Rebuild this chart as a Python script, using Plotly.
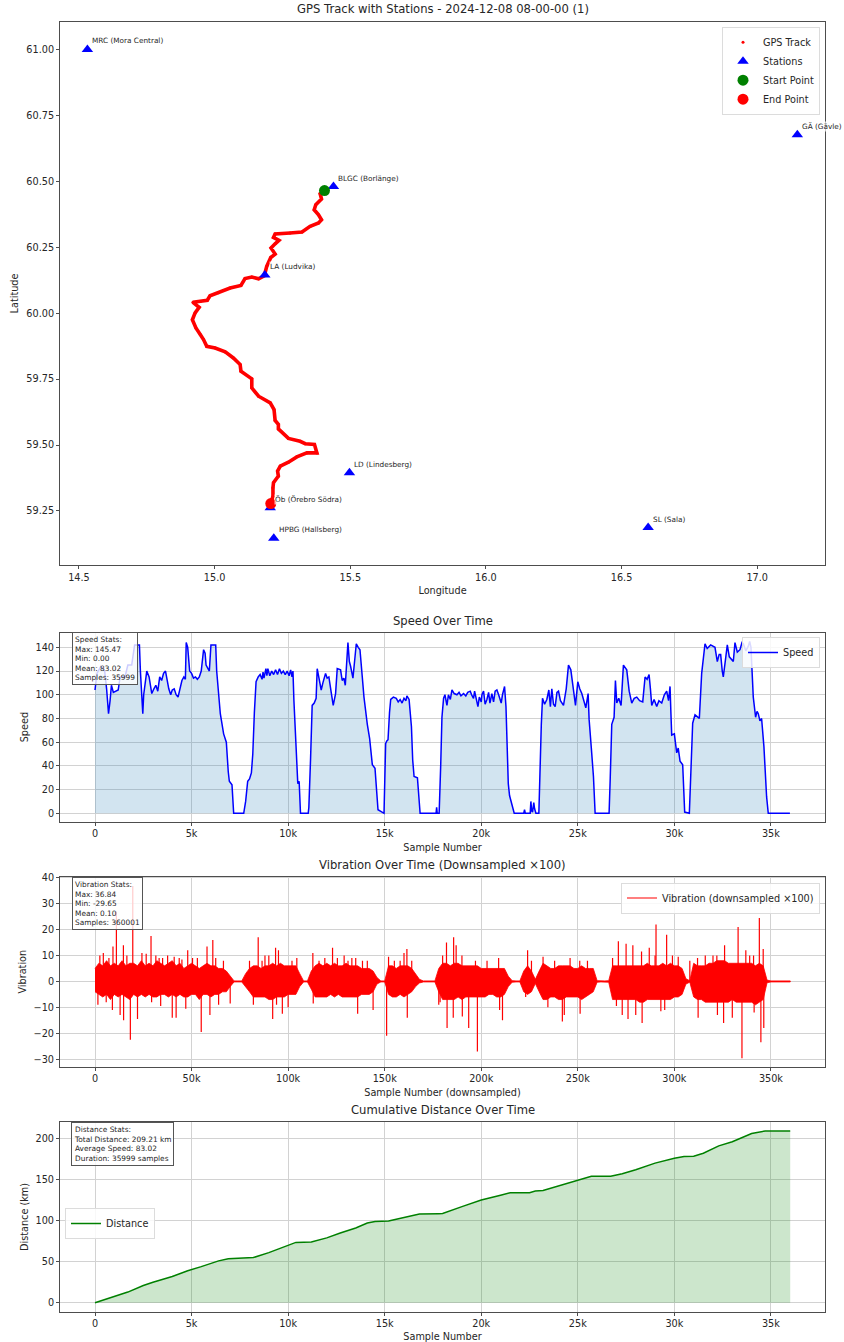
import plotly.graph_objects as go

W, H = 844, 1342
TEXT = "#262626"
FRAME = "#4d4d4d"
GRID = "#d2d2d2"
FONT = "DejaVu Sans"

# ---------- GPS panel ----------
track_lon = [15.405, 15.389, 15.394, 15.373, 15.367, 15.383, 15.394, 15.383, 15.352, 15.322, 15.278, 15.223,
             15.217, 15.237, 15.223, 15.208, 15.223, 15.207, 15.192, 15.183, 15.162, 15.137, 15.112, 15.097,
             15.057, 15.014, 14.983, 14.973, 14.947, 14.920, 14.943, 14.928, 14.918, 14.931, 14.947, 14.959,
             14.971, 15.002, 15.039, 15.069, 15.094, 15.097, 15.137, 15.137, 15.162, 15.205, 15.219, 15.223,
             15.235, 15.235, 15.272, 15.315, 15.334, 15.368, 15.377, 15.340, 15.303, 15.272, 15.242, 15.232,
             15.235, 15.217, 15.215, 15.215, 15.207]
track_lat = [60.465, 60.453, 60.433, 60.411, 60.392, 60.373, 60.354, 60.342, 60.329, 60.308, 60.304, 60.300,
             60.287, 60.276, 60.263, 60.247, 60.224, 60.211, 60.177, 60.142, 60.130, 60.137, 60.131, 60.105,
             60.095, 60.077, 60.066, 60.049, 60.044, 60.041, 60.022, 60.001, 59.975, 59.944, 59.919, 59.900,
             59.874, 59.868, 59.853, 59.830, 59.805, 59.780, 59.751, 59.717, 59.685, 59.660, 59.634, 59.593,
             59.578, 59.561, 59.525, 59.514, 59.505, 59.502, 59.470, 59.470, 59.455, 59.435, 59.420, 59.401,
             59.382, 59.357, 59.338, 59.306, 59.278]
station_names = ["MRC (Mora Central)", "BLGC (Borlänge)", "LA (Ludvika)", "GÄ (Gävle)", "LD (Lindesberg)",
                 "Öb (Örebro Södra)", "HPBG (Hallsberg)", "SL (Sala)"]
station_lon = [14.531, 15.438, 15.185, 17.148, 15.497, 15.205, 15.218, 16.598]
station_lat = [61.000, 60.480, 60.145, 60.676, 59.395, 59.262, 59.146, 59.187]
start_lon, start_lat = [15.405], [60.465]
end_lon, end_lat = [15.207], [59.278]

# ---------- Speed panel ----------
speed_x = [0, 100, 300, 500, 600, 700, 780, 850, 950, 1100, 1200, 1300, 1550, 1700, 1900, 2050, 2300, 2350, 2474, 2520,
           2600, 2680, 2800, 2940, 3050, 3150, 3250, 3350, 3450, 3550, 3650, 3720, 3820, 3920, 4000, 4100, 4200, 4300,
           4400, 4500, 4600, 4680, 4723, 4800, 4900, 5000, 5100, 5200, 5300, 5400, 5500, 5623, 5700, 5750, 5850, 5920,
           6003, 6100, 6250, 6300, 6400, 6488, 6660, 6800, 6900, 6955, 7093, 7180, 7700, 7750, 7800, 7906, 8000, 8097,
           8170, 8252, 8340, 8450, 8550, 8650, 8700, 8750, 8850, 8900, 8950, 9050, 9150, 9250, 9350, 9450, 9550, 9650,
           9750, 9850, 9950, 10050, 10130, 10200, 10250, 10300, 10432, 10500, 10570, 10640, 11040, 11073, 11160, 11245,
           11350, 11450, 11505, 11600, 11713, 11800, 11938, 12020, 12110, 12230, 12335, 12457, 12543, 12716, 12800, 12889,
           12960, 13097, 13170, 13235, 13356, 13440, 13529, 13630, 13720, 13840, 13927, 14100, 14221, 14360, 14498, 14600,
           14654, 14965, 15050, 15110, 15173, 15250, 15311, 15450, 15600, 15700, 15800, 15900, 16000, 16100, 16150, 16263,
           16385, 16450, 16522, 16695, 16834, 17660, 17690, 17720, 17820, 17900, 17965, 18050, 18120, 18224, 18300, 18400,
           18483, 18600, 18741, 18850, 18950, 19086, 19200, 19300, 19431, 19500, 19600, 19655, 19740, 19828, 19900, 20000,
           20035, 20120, 20200, 20293, 20380, 20450, 20550, 20638, 20720, 20810, 20900, 21034, 21100, 21207, 21280, 21327,
           21400, 21465, 21560, 21707, 22200, 22241, 22280, 22534, 22570, 22610, 22655, 22720, 22760, 22830, 22983, 23052,
           23110, 23172, 23280, 23396, 23500, 23580, 23655, 23740, 23828, 23920, 24000, 24100, 24259, 24400, 24517, 24638,
           24760, 24880, 25000, 25100, 25207, 25320, 25414, 25534, 25586, 25700, 25810, 25897, 26620, 26680, 26758, 26879,
           26948, 27017, 27120, 27241, 27362, 27534, 27660, 27793, 27920, 28052, 28200, 28362, 28483, 28590, 28690, 28760,
           28828, 28950, 29086, 29200, 29345, 29480, 29603, 29700, 29776, 29820, 29862, 30000, 30060, 30120, 30200, 30293,
           30431, 30534, 30776, 30860, 30948, 31069, 31293, 31414, 31586, 31700, 31879, 32103, 32224, 32320, 32397, 32480,
           32534, 32650, 32741, 32845, 33052, 33138, 33260, 33397, 33500, 33569, 33700, 33828, 33900, 33966, 34086, 34207,
           34280, 34345, 34430, 34517, 34638, 34776, 34862, 35983]
speed_y = [104, 118, 124, 120, 105, 84, 95, 108, 102, 103, 104, 115, 115, 125, 125, 142, 142, 120, 84, 100,
           110, 120, 115, 101, 105, 108, 103, 115, 112, 118, 120, 114, 105, 100, 104, 105, 100, 98,
           106, 112, 115, 113, 144, 140, 120, 118, 114, 115, 113, 115, 120, 138, 135, 125, 122, 120,
           142, 142, 142, 120, 100, 84, 67, 60, 35, 27, 24, 0, 0, 5, 10, 27, 29, 34,
           50, 85, 111, 115, 117, 113, 119, 114, 122, 116, 122, 116, 120, 117, 121, 117, 122, 118,
           120, 117, 120, 116, 121, 115, 120, 95, 50, 25, 27, 0, 0, 5, 45, 91,
           93, 97, 122, 112, 104, 110, 118, 114, 115, 102, 91, 101, 122, 121, 112, 114,
           108, 144, 128, 124, 114, 128, 143, 140, 138, 115, 98, 75, 63, 41, 38, 15,
           3, 0, 59, 61, 62, 85, 96, 98, 97, 94, 96, 93, 97, 95, 99, 96,
           73, 45, 31, 30, 0, 0, 5, 0, 0, 40, 81, 97, 100, 91, 100, 96,
           104, 101, 100, 102, 99, 101, 99, 102, 103, 100, 97, 103, 95, 90, 98, 94,
           100, 103, 92, 96, 102, 93, 101, 94, 103, 104, 100, 93, 100, 107, 90, 62,
           25, 15, 8, 0, 0, 3, 0, 0, 10, 2, 1, 9, 4, 0, 0, 45,
           75, 97, 92, 96, 104, 90, 105, 92, 90, 102, 103, 95, 91, 105, 125, 121,
           105, 91, 111, 105, 101, 94, 89, 101, 79, 55, 31, 0, 0, 30, 75, 81,
           112, 93, 97, 91, 125, 121, 103, 93, 97, 98, 95, 94, 115, 113, 117, 105,
           91, 96, 90, 95, 93, 100, 103, 95, 107, 85, 66, 67, 60, 51, 55, 44,
           41, 1, 0, 40, 76, 83, 80, 118, 143, 139, 142, 140, 128, 134, 134, 120,
           115, 130, 142, 132, 128, 144, 136, 138, 144, 143, 137, 141, 145, 140, 98, 81,
           86, 84, 78, 80, 56, 14, 0, 0]

# ---------- Vibration panel ----------
vib_band_x = list(range(0, 360001, 2000))
vib_upper = [5, 7, 6, 8, 6, 7, 6, 8, 6, 7,
             7, 6, 8, 6, 7, 6, 8, 7, 6, 7,
             8, 6, 7, 5, 6, 7, 6, 5, 6, 7,
             6, 6, 5, 5, 4, 2, .2, .2, .2, 3,
             5, 6, 6, 5, 6, 6, 7, 6, 7, 6,
             6, 6, 6, 3, .2, .2, 4, 6, 7, 6,
             7, 6, 7, 6, 6, 7, 6, 6, 6, 5,
             5, 5, 4, 1.5, .2, .2, 6, 6, 5, 6,
             6, 6, 5, 3, .8, .2, .2, .2, .2, 5,
             7, 7, 6, 7, 7, 6, 6, 6, 6, 6,
             5, 5, 5, 5, 5, 5, 5, 2, .3, .2,
             .2, 4, 6, 4, .8, 4, 7, 6, 5, 5,
             6, 6, 6, 6, 5, 5, 6, 5, 5, 5,
             .3, .2, .2, .3, 6, 6, 6, 6, 6, 6,
             6, 6, 6, 7, 6, 6, 6, 7, 6, 7,
             6, 6, 5, 1, .3, 7, 6, 6, 6, 7,
             7, 8, 8, 8, 7, 7, 7, 7, 7, 7,
             7, 6, 7, 6, .5, .2, .2, .2, .2, .2,
             .2]
vib_lower = [-4, -5, -6, -5, -7, -5, -6, -5, -6, -7,
             -5, -6, -5, -6, -5, -6, -6, -5, -5, -6,
             -5, -6, -5, -6, -6, -5, -5, -7, -5, -5,
             -6, -5, -5, -4, -4, -2, -.2, -.2, -.2, -2,
             -4, -6, -6, -6, -6, -7, -7, -6, -6, -6,
             -5, -5, -5, -2, -.2, -.2, -3, -6, -6, -6,
             -6, -5, -6, -5, -6, -6, -6, -6, -6, -5,
             -5, -5, -4, -1, -.2, -.2, -5, -6, -6, -5,
             -6, -5, -4, -2, -.6, -.2, -.2, -.2, -.2, -4,
             -7, -7, -7, -7, -6, -7, -6, -6, -6, -6,
             -6, -6, -5, -5, -6, -6, -5, -2, -.3, -.2,
             -.2, -4, -5, -4, -.8, -4, -7, -7, -6, -6,
             -7, -7, -6, -6, -6, -6, -7, -6, -5, -4,
             -.3, -.2, -.2, -.3, -7, -7, -7, -7, -7, -7,
             -7, -8, -8, -7, -7, -7, -7, -7, -7, -7,
             -6, -6, -5, -1, -.3, -6, -7, -7, -8, -8,
             -8, -8, -8, -8, -8, -7, -8, -8, -8, -8,
             -8, -9, -8, -7, -.5, -.2, -.2, -.2, -.2, -.2,
             -.2]
vib_spike_x = [1500, 2500, 4300, 5800, 7200, 9000, 9300, 11070, 13000, 14700, 14800, 16500, 18300, 19550, 22000, 24300,
               26500, 29000, 29300, 31500, 33200, 34000, 35000, 37600, 40000, 41000, 42000, 43600, 45000, 47000, 48000,
               50500, 53000, 55000, 58000, 59500, 61000, 62500, 64000, 66500, 70000, 80000, 82000, 84500, 86500, 88000,
               90000, 92000, 93500, 94000, 95000, 97000, 100000, 102000, 104500, 113000, 112800, 116000, 119000, 123000,
               125500, 129000, 131000, 133000, 135000, 136000, 138500, 141000, 144000, 151000, 152000, 155000, 158000,
               160000, 161500, 161700, 164000, 178000, 178700, 180000, 182000, 182300, 185500, 185700, 187000, 190000,
               190200, 193500, 197000, 198000, 203000, 209000, 209500, 211000, 224000, 223000, 226000, 232000, 234500,
               238000, 242000, 243000, 246000, 251000, 251200, 255000, 268000, 270000, 271000, 273000, 275000, 276000,
               278500, 280000, 283000, 283300, 287000, 290000, 290500, 293000, 295000, 296000, 299000, 302000, 308000,
               312000, 312300, 316000, 320000, 322000, 322300, 325500, 326000, 330000, 333000, 335000, 337000, 339000,
               341000, 341300, 344000, 344800, 346000, 346300]
vib_spike_y = [-9, 10, 11, -8, 9, -11, 13.5, 27, -13, 14, -15, 10, -22.5, 36.84, -14.5, 11,
               10.7, 17.5, -8, 10, 9, -9.5, 9, 10, -14, 9.5, -14, 9, 8.5, -10.5, 12,
               9, 9, -19.5, 13.5, -13, 16, 9, -9, 8, -8.5, 8, -9, 17, 8, 10,
               10, -14.5, 13, -9, 12, -12.5, -10, 8, 9, -8.5, 11, 8, 9, 13,
               9, 10, 8, 9, 9, -12.5, 8, 8, -11, -21, 9.5, 8, 8,
               11, 12.5, -14, 8, -9, -8, 10, 15, -18, -14, 17, 14, 10,
               -13.5, -18, 8, -27, 8, 9, -11, -15, 12, -6, 8, 9.5, -10,
               8, -15.5, -13, 9, 8, -12.5, 8, 9, -9.5, 15.5, -13, 14.5, -14.5,
               14, -13, 11.5, -16, 13, 10, 22, -11.5, -11, 18, 10, 9.5, 8,
               9, -14, 10, 10, 10, -13, -16, 14, -14, 21, -29.65, 12, 10,
               10, -12, 24.5, -23.5, 12.5, -18]

# ---------- Distance panel ----------
dist_x = [0, 1000, 1700, 2500, 3000, 4000, 4800, 5500, 6400, 6900, 7500, 8200, 9000, 10000, 10400, 11200, 12000, 12700,
          13500, 14100, 14500, 15200, 16000, 16800, 17800, 18000, 19000, 20000, 21000, 21500, 22500, 22800, 23200, 24000,
          25000, 25700, 26700, 27300, 28000, 29000, 30000, 30500, 31000, 31500, 32300, 33000, 34000, 34700, 35999]
dist_y = [0, 8, 13, 21, 25, 32, 39, 44, 51, 53.5, 54, 55, 61, 70, 73.5, 74, 79, 85,
          91, 97, 99, 99.5, 104, 108, 108.5, 108.7, 117, 125, 131, 134, 134, 136, 136.6, 142,
          149, 154, 154, 157, 162, 170, 176, 178, 178.5, 182, 191, 196, 206, 209.2, 209.21]

speed_stats = "Speed Stats:<br>Max: 145.47<br>Min: 0.00<br>Mean: 83.02<br>Samples: 35999"
vib_stats = "Vibration Stats:<br>Max: 36.84<br>Min: -29.65<br>Mean: 0.10<br>Samples: 360001"
dist_stats = "Distance Stats:<br>Total Distance: 209.21 km<br>Average Speed: 83.02<br>Duration: 35999 samples"

fig = go.Figure()

# GPS traces
fig.add_trace(go.Scatter(x=track_lon, y=track_lat, mode="lines", line=dict(color="#ff0000", width=3.6),
                         showlegend=False, hoverinfo="skip", xaxis="x", yaxis="y"))
fig.add_trace(go.Scatter(x=track_lon, y=track_lat, mode="markers", name="GPS Track",
                         marker=dict(color="#ff0000", size=3), xaxis="x", yaxis="y", legend="legend"))
fig.add_trace(go.Scatter(x=station_lon, y=station_lat, mode="markers", name="Stations",
                         marker=dict(color="#0000ff", size=10, symbol="triangle-up"), xaxis="x", yaxis="y", legend="legend"))
fig.add_trace(go.Scatter(x=start_lon, y=start_lat, mode="markers", name="Start Point",
                         marker=dict(color="#008000", size=11), xaxis="x", yaxis="y", legend="legend"))
fig.add_trace(go.Scatter(x=end_lon, y=end_lat, mode="markers", name="End Point",
                         marker=dict(color="#ff0000", size=11), xaxis="x", yaxis="y", legend="legend"))

# Speed traces
fig.add_trace(go.Scatter(x=speed_x, y=speed_y, mode="none", fill="tozeroy", fillcolor="rgba(31,119,180,0.2)",
                         showlegend=False, hoverinfo="skip", xaxis="x2", yaxis="y2"))
fig.add_trace(go.Scatter(x=speed_x, y=speed_y, mode="lines", name="Speed", line=dict(color="#0000ff", width=1.5),
                         xaxis="x2", yaxis="y2", legend="legend2"))

# Vibration traces
band_x = vib_band_x + vib_band_x[::-1]
band_y = vib_upper + vib_lower[::-1]
fig.add_trace(go.Scatter(x=band_x, y=band_y, mode="lines", fill="toself", fillcolor="#ff0000",
                         line=dict(color="#ff0000", width=0.8), showlegend=False, hoverinfo="skip",
                         xaxis="x3", yaxis="y3"))
spike_xs, spike_ys = [], []
for sx, sy in zip(vib_spike_x, vib_spike_y):
    spike_xs += [sx, sx, None]
    spike_ys += [0, sy, None]
fig.add_trace(go.Scatter(x=spike_xs, y=spike_ys, mode="lines", name="Vibration (downsampled ×100)",
                         line=dict(color="#ff0000", width=1.2), xaxis="x3", yaxis="y3", legend="legend3"))

# Distance traces
fig.add_trace(go.Scatter(x=dist_x, y=dist_y, mode="none", fill="tozeroy", fillcolor="rgba(0,128,0,0.2)",
                         showlegend=False, hoverinfo="skip", xaxis="x4", yaxis="y4"))
fig.add_trace(go.Scatter(x=dist_x, y=dist_y, mode="lines", name="Distance", line=dict(color="#008000", width=1.5),
                         xaxis="x4", yaxis="y4", legend="legend4"))


def px_x(p):
    return p / W


def px_y(p):
    return 1 - p / H


TICK = dict(family=FONT, size=9.7, color=TEXT)
TITLE = dict(family=FONT, size=9.7, color=TEXT)


def axis(title, rng, grid, dtick, fmt=None, domain=None, anchor=None, standoff=5):
    d = dict(range=rng, domain=domain, anchor=anchor, showgrid=grid, gridcolor=GRID, gridwidth=1.2,
             zeroline=False, showline=True, mirror=True, linecolor=FRAME, linewidth=1,
             ticks="outside", ticklen=3, tickwidth=0.8, tickcolor=FRAME, tickfont=TICK,
             tick0=0, dtick=dtick, automargin=False,
             title=dict(text=title, font=TITLE, standoff=standoff))
    if fmt:
        d["tickformat"] = fmt
    return d


PANEL_X = [px_x(60), px_x(825)]
panels = [(22, 565), (632.5, 821.7), (876.7, 1066.7), (1122.3, 1311.7)]
dom = [[px_y(b), px_y(t)] for t, b in panels]

fig.update_layout(
    width=W, height=H, autosize=False,
    margin=dict(l=0, r=0, t=0, b=0), paper_bgcolor="white", plot_bgcolor="white",
    font=dict(family=FONT, color=TEXT),
    xaxis=axis("Longitude", [14.43, 17.25], False, 0.5, ".1f", PANEL_X, "y"),
    yaxis=axis("Latitude", [59.045, 61.104], False, 0.25, ".2f", dom[0], "x"),
    xaxis2=axis("Sample Number", [-1813, 37800], True, 5000, None, PANEL_X, "y2"),
    yaxis2=axis("Speed", [-7.1, 152.5], True, 20, None, dom[1], "x2"),
    xaxis3=axis("Sample Number (downsampled)", [-18130, 378000], True, 50000, None, PANEL_X, "y3"),
    yaxis3=axis("Vibration", [-32.9, 40.4], True, 10, None, dom[2], "x3"),
    xaxis4=axis("Sample Number", [-1813, 37800], True, 5000, None, PANEL_X, "y4"),
    yaxis4=axis("Distance (km)", [-10.9, 219.7], True, 50, None, dom[3], "x4"),
)


def legend(right, top, left=None):
    d = dict(font=dict(family=FONT, size=9.7, color=TEXT), bgcolor="rgba(255,255,255,0.85)",
             bordercolor="#dcdcdc", borderwidth=1, yanchor="top", y=px_y(top), tracegroupgap=0,
             itemsizing="trace")
    if left is not None:
        d.update(xanchor="left", x=px_x(left))
    else:
        d.update(xanchor="right", x=px_x(right))
    return d


fig.update_layout(legend=legend(820, 26.7), legend2=legend(820, 637), legend3=legend(820, 882.5),
                  legend4=legend(None, 1208, left=65))

anns = []
for py, t in [(17.5, "GPS Track with Stations - 2024-12-08 08-00-00 (1)"), (628.5, "Speed Over Time"),
              (873, "Vibration Over Time (Downsampled ×100)"), (1118, "Cumulative Distance Over Time")]:
    anns.append(dict(x=px_x(442.5), y=px_y(py), xref="paper", yref="paper", text=t, showarrow=False,
                     xanchor="center", yanchor="bottom", font=dict(family=FONT, size=11.6, color=TEXT), borderpad=0))

for name, lon, lat in zip(station_names, station_lon, station_lat):
    anns.append(dict(x=lon, y=lat, xref="x", yref="y", text=name, showarrow=False, xanchor="left", yanchor="bottom",
                     xshift=4, yshift=3, font=dict(family=FONT, size=7.3, color=TEXT),
                     bgcolor="rgba(255,255,255,0.7)", borderpad=0))

for stats, left, top in [(speed_stats, 72, 632), (vib_stats, 72, 877), (dist_stats, 71, 1122)]:
    anns.append(dict(x=px_x(left), y=px_y(top), xref="paper", yref="paper", text=stats, showarrow=False,
                     xanchor="left", yanchor="top", align="left", font=dict(family=FONT, size=7.4, color=TEXT),
                     bgcolor="rgba(255,255,255,0.8)", bordercolor="#555555", borderwidth=1, borderpad=2))
fig.update_layout(annotations=anns)

fig.write_html("out.html", config={"displayModeBar": False},
               post_script="document.body.style.margin='0';document.body.style.overflow='hidden';")
